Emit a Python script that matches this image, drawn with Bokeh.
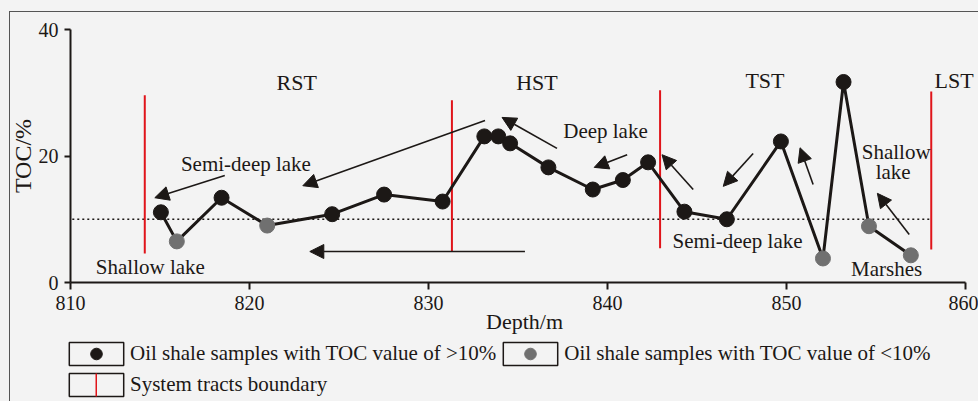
from bokeh.plotting import figure
from bokeh.layouts import column
from bokeh.models import (ColumnDataSource, Range1d, FixedTicker, Arrow, NormalHead,
                          Legend, LegendItem)
from bokeh.core.properties import value
from bokeh.embed import file_html
from bokeh.resources import INLINE

# ---- data -------------------------------------------------------------
depth = [815.05, 815.94, 818.44, 820.99, 824.62, 827.52, 830.79, 833.12, 833.90,
         834.56, 836.70, 839.18, 840.86, 842.27, 844.30, 846.67, 849.69, 852.04,
         853.19, 854.61, 856.95]
toc = [11.1, 6.5, 13.4, 9.0, 10.8, 13.9, 12.8, 23.1, 23.1, 22.0, 18.2, 14.7,
       16.2, 19.0, 11.2, 10.0, 22.3, 3.8, 31.7, 8.9, 4.3]
toc_class = [">10", "<10", ">10", "<10", ">10", ">10", ">10", ">10", ">10", ">10",
             ">10", ">10", ">10", ">10", ">10", ">10", ">10", "<10", ">10", "<10", "<10"]

boundary_depth = [814.15, 831.31, 842.94, 858.09]
boundary_top = [29.6, 28.8, 30.4, 30.2]
boundary_bottom = [4.6, 4.9, 5.4, 5.2]

threshold = 10
threshold_from, threshold_to = 810.1, 858.1

tract_names = ["RST", "HST", "TST", "LST"]
tract_x = [822.64, 836.06, 848.80, 859.37]
tract_y = [31.6, 31.6, 31.9, 31.9]

env_names = ["Semi-deep lake", "Shallow lake", "Deep lake", "Semi-deep lake",
             "Shallow", "lake", "Marshes"]
env_x = [819.80, 814.46, 839.89, 847.27, 856.13, 855.96, 855.60]
env_y = [18.8, 2.5, 24.0, 6.6, 20.7, 17.4, 2.2]

arrow_x0 = [818.62, 833.16, 835.39, 837.18, 841.10, 844.79, 848.14, 851.49, 856.86]
arrow_y0 = [16.9, 25.6, 4.9, 21.2, 20.2, 14.7, 20.4, 15.5, 7.6]
arrow_x1 = [814.71, 822.98, 823.37, 834.11, 839.26, 843.05, 846.47, 850.76, 855.08]
arrow_y1 = [13.4, 15.3, 4.9, 26.1, 18.2, 20.2, 15.2, 21.3, 14.1]

x_ticks = [810, 820, 830, 840, 850, 860]
y_ticks = [0, 20, 40]

label_hi = "Oil shale samples with TOC value of >10%"
label_lo = "Oil shale samples with TOC value of <10%"
label_bd = "System tracts boundary"

# ---- style ------------------------------------------------------------
FONT = "Liberation Serif"
BG = "#f3f3f3"
INK = "#1c1816"
GRAY = "#707070"
RED = "#e0141a"

p = figure(width=978, height=339, output_backend="svg", toolbar_location=None,
           x_range=Range1d(810, 860.73), y_range=Range1d(0, 40),
           min_border_left=70, min_border_right=0, min_border_top=29,
           min_border_bottom=57)
p.frame_align = False
p.background_fill_alpha = 0
p.border_fill_alpha = 0
p.outline_line_color = None
p.grid.visible = False

for ax in (p.xaxis[0], p.yaxis[0]):
    ax.axis_line_color = INK
    ax.axis_line_width = 2
    ax.major_tick_line_color = INK
    ax.major_tick_line_width = 2
    ax.major_tick_in = 0
    ax.minor_tick_line_color = None
    ax.major_label_text_font = FONT
    ax.major_label_text_font_size = "20px"
    ax.major_label_text_color = INK
    ax.axis_label_text_font = FONT
    ax.axis_label_text_font_style = "normal"
    ax.axis_label_text_color = INK

p.xaxis.ticker = FixedTicker(ticks=x_ticks)
p.yaxis.ticker = FixedTicker(ticks=y_ticks)
p.xaxis.bounds = (x_ticks[0], x_ticks[-1])
p.yaxis.bounds = (y_ticks[0], y_ticks[-1])
p.xaxis.major_tick_out = 7
p.yaxis.major_tick_out = 6
p.xaxis.major_label_standoff = 6
p.yaxis.major_label_standoff = 6
p.xaxis.axis_label = "Depth/m"
p.yaxis.axis_label = "TOC/%"
p.xaxis.axis_label_text_font_size = "22px"
p.yaxis.axis_label_text_font_size = "24px"
p.xaxis.axis_label_standoff = -4
p.yaxis.axis_label_standoff = 0

# threshold dotted line
p.line(x=[threshold_from, threshold_to], y=[threshold, threshold],
       line_color=INK, line_width=1.5, line_dash="2 3")

# system tract boundaries
p.segment(x0=boundary_depth, y0=boundary_bottom, x1=boundary_depth, y1=boundary_top,
          line_color=RED, line_width=2)

# data line and points
p.line(x=depth, y=toc, line_color=INK, line_width=3)
p.scatter(x=[d for d, c in zip(depth, toc_class) if c == ">10"],
          y=[t for t, c in zip(toc, toc_class) if c == ">10"],
          size=15, fill_color=INK, line_color=INK)
p.scatter(x=[d for d, c in zip(depth, toc_class) if c == "<10"],
          y=[t for t, c in zip(toc, toc_class) if c == "<10"],
          size=15, fill_color=GRAY, line_color=GRAY)

# arrows
arrow_src = ColumnDataSource(dict(x0=arrow_x0, y0=arrow_y0, x1=arrow_x1, y1=arrow_y1))
p.add_layout(Arrow(x_start="x0", y_start="y0", x_end="x1", y_end="y1", source=arrow_src,
                   line_color=INK, line_width=1.6,
                   end=NormalHead(size=14, fill_color=INK, line_color=INK, line_width=1)))

# texts
p.text(x=tract_x, y=tract_y, text=tract_names, text_font=value(FONT),
       text_font_size="22px", text_align="center", text_baseline="middle",
       text_color=INK)
p.text(x=env_x, y=env_y, text=env_names, text_font=value(FONT),
       text_font_size="21px", text_align="center", text_baseline="middle",
       text_color=INK)

# ---- legend strip (its own small plot; proxies lie outside its ranges) ----
lf = figure(width=978, height=62, output_backend="svg", toolbar_location=None,
            x_range=Range1d(0, 1), y_range=Range1d(0, 1),
            x_axis_type=None, y_axis_type=None,
            min_border_left=0, min_border_right=0, min_border_top=0, min_border_bottom=0)
lf.frame_align = False
lf.background_fill_alpha = 0
lf.border_fill_alpha = 0
lf.outline_line_color = None
lf.grid.visible = False

box = lf.rect(x=depth[:1], y=toc[:1], width=1, height=1, fill_alpha=0,
              line_color=INK, line_width=1.5)
hi_p = lf.scatter(x=depth[:1], y=toc[:1], fill_color=INK, line_color=INK)
lo_p = lf.scatter(x=depth[:1], y=toc[:1], fill_color=GRAY, line_color=GRAY)
# a very thick, very short horizontal legend line reads as a thin vertical red bar
bd_p = lf.line(x=boundary_depth[:2], y=boundary_top[:2], line_color=RED,
               line_width=23, line_cap="butt")

common = dict(glyph_height=29, label_standoff=0, padding=0, margin=0,
              border_line_color=None, background_fill_alpha=0,
              label_text_font=FONT, label_text_font_size="21px",
              label_text_color=INK, label_height=29)
leg1 = Legend(items=[LegendItem(label=label_hi, renderers=[box, hi_p]),
                     LegendItem(label=label_lo, renderers=[box, lo_p])],
              orientation="horizontal", location=(62, 33), spacing=-4,
              glyph_width=68, **common)
leg2 = Legend(items=[LegendItem(label=label_bd, renderers=[box])],
              orientation="horizontal", location=(62, 2), glyph_width=68, **common)
leg2b = Legend(items=[LegendItem(label="", renderers=[bd_p])],
               orientation="horizontal", location=(95, 2), glyph_width=2,
               label_width=0, **common)
lf.add_layout(leg1)
lf.add_layout(leg2)
lf.add_layout(leg2b)

layout = column(p, lf, spacing=0, styles={
    "background": ("linear-gradient(#555555, #555555) 9px 11px / 1px 100% no-repeat, "
                   "linear-gradient(#555555, #555555) 9px 11px / 100% 1px no-repeat, "
                   + BG),
})

open("out.html", "w").write(file_html(layout, INLINE))
